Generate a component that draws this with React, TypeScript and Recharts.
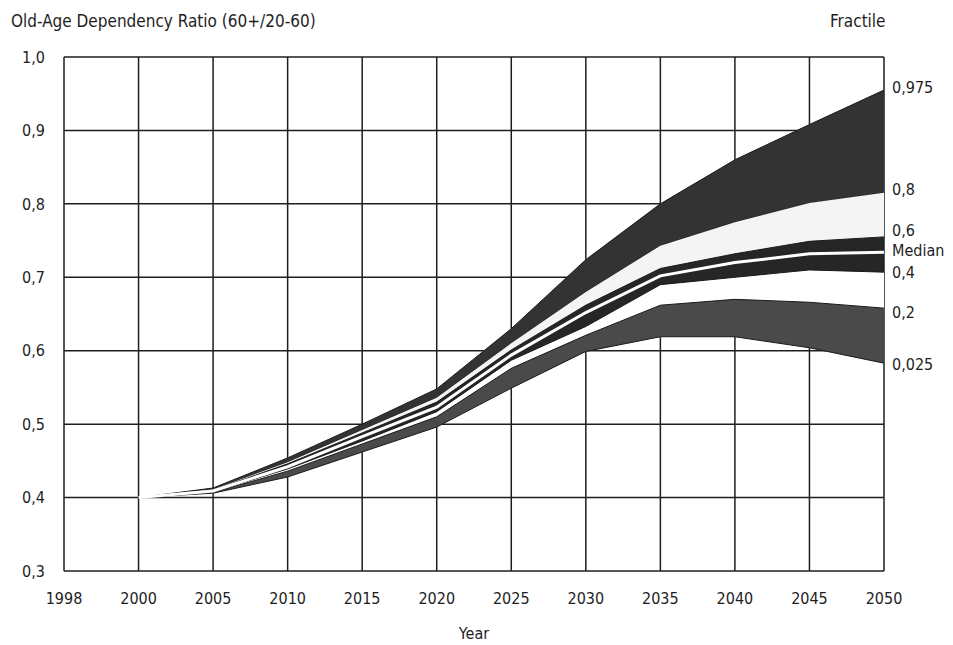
import React from 'react';
import { AreaChart, Area, XAxis, YAxis, CartesianGrid, ReferenceDot } from 'recharts';

// fractiles of the old-age dependency ratio
const years = ['1998', '2000', '2005', '2010', '2015', '2020', '2025', '2030', '2035', '2040', '2045', '2050'];
const p975 = [null, 0.4, 0.413, 0.454, 0.5, 0.548, 0.63, 0.724, 0.8, 0.86, 0.908, 0.955];
const p80 = [null, 0.4, 0.411, 0.448, 0.492, 0.536, 0.61, 0.68, 0.743, 0.775, 0.801, 0.815];
const p60 = [null, 0.4, 0.41, 0.446, 0.488, 0.53, 0.601, 0.662, 0.712, 0.732, 0.749, 0.755];
const median = [null, 0.4, 0.409, 0.442, 0.483, 0.523, 0.594, 0.652, 0.702, 0.72, 0.732, 0.734];
const p40 = [null, 0.4, 0.408, 0.439, 0.477, 0.517, 0.587, 0.633, 0.69, 0.7, 0.71, 0.707];
const p20 = [null, 0.4, 0.407, 0.436, 0.473, 0.51, 0.576, 0.621, 0.662, 0.67, 0.666, 0.658];
const p025 = [null, 0.4, 0.406, 0.428, 0.462, 0.496, 0.549, 0.599, 0.619, 0.619, 0.604, 0.583];

const yTicks = [0.3, 0.4, 0.5, 0.6, 0.7, 0.8, 0.9, 1.0];

const fractileLabels = ['0,975', '0,8', '0,6', 'Median', '0,4', '0,2', '0,025'];
const fractileSeries = [p975, p80, p60, median, p40, p20, p025];
const labelShift = [-3, -3, -7, -2, 0, 4, 1];

const range = (lo: (number | null)[], hi: (number | null)[], i: number) =>
  lo[i] == null || hi[i] == null ? null : [lo[i], hi[i]];

const data = years.map((year, i) => ({
  year,
  fan: range(p025, p975, i),
  upper: range(p80, p975, i),
  light: range(p60, p80, i),
  middle: range(p40, p60, i),
  lower: range(p025, p20, i),
  median: median[i],
}));

const FONT = "'DejaVu Sans', sans-serif";
const INK = '#1e1e1e';
const txt = { fontStretch: 'condensed' as const };

const fmt = (v: number) => v.toFixed(1).replace('.', ',');

export default function App() {
  const last = years.length - 1;
  return (
    <div
      style={{
        position: 'absolute',
        left: 0,
        top: 0,
        width: 953,
        height: 645,
        background: '#fff',
        fontFamily: FONT,
        fontStretch: 'condensed',
        color: INK,
      }}
    >
      <div style={{ position: 'absolute', left: 11, top: 11, fontSize: 17 }}>Old-Age Dependency Ratio (60+/20-60)</div>
      <div style={{ position: 'absolute', left: 830, top: 11, fontSize: 17 }}>Fractile</div>
      <AreaChart width={953} height={645} data={data} margin={{ top: 57, right: 69, bottom: 0, left: 0 }}>
        <CartesianGrid stroke={INK} strokeWidth={1.5} />
        <XAxis
          dataKey="year"
          height={74}
          axisLine={false}
          tickLine={false}
          tickSize={0}
          tickMargin={22}
          interval={0}
          tick={{ fill: INK, fontSize: 16, style: txt }}
          label={{ value: 'Year', position: 'insideBottom', offset: 6, fill: INK, fontSize: 16, style: txt }}
        />
        <YAxis
          width={64}
          domain={[0.3, 1.0]}
          ticks={yTicks}
          tickFormatter={fmt}
          axisLine={false}
          tickLine={false}
          tickSize={0}
          tickMargin={19}
          tick={{ fill: INK, fontSize: 16, style: txt }}
        />
        <Area dataKey="fan" stroke="none" fill="#ffffff" fillOpacity={1} isAnimationActive={false} />
        <Area dataKey="upper" stroke="#1a1a1a" strokeWidth={1} fill="#333333" fillOpacity={1} isAnimationActive={false} />
        <Area dataKey="light" stroke="none" fill="#f4f4f4" fillOpacity={1} isAnimationActive={false} />
        <Area dataKey="middle" stroke="#1a1a1a" strokeWidth={1} fill="#262626" fillOpacity={1} isAnimationActive={false} />
        <Area dataKey="lower" stroke="#1a1a1a" strokeWidth={1} fill="#4a4a4a" fillOpacity={1} isAnimationActive={false} />
        <Area dataKey="median" stroke="#ffffff" strokeWidth={3} fill="none" fillOpacity={0} isAnimationActive={false} />
        {fractileLabels.map((name, k) => (
          <ReferenceDot
            key={name}
            x="2050"
            y={fractileSeries[k][last] as number}
            r={0}
            stroke="none"
            fill="none"
            ifOverflow="visible"
            label={(props: any) => (
              <text
                x={props.viewBox.x + 8}
                y={props.viewBox.y + labelShift[k]}
                dy="0.35em"
                fontSize={16}
                fill={INK}
                style={txt}
              >
                {name}
              </text>
            )}
          />
        ))}
      </AreaChart>
    </div>
  );
}
